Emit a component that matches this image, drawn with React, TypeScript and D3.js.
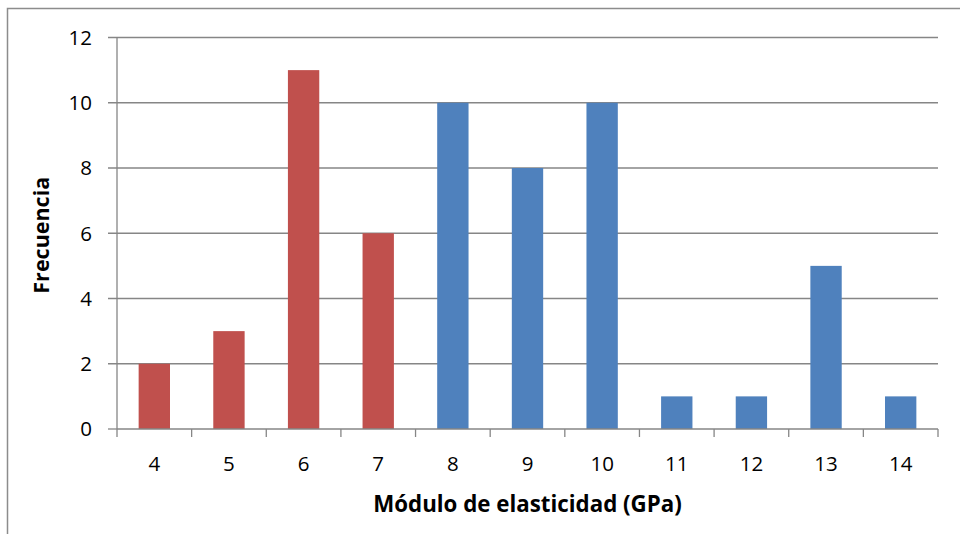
import React from "react";
import * as d3 from "d3";

const categories = ["4", "5", "6", "7", "8", "9", "10", "11", "12", "13", "14"];
const frequencies = [2, 3, 11, 6, 10, 8, 10, 1, 1, 5, 1];
const groups = ["a", "a", "a", "a", "b", "b", "b", "b", "b", "b", "b"];
const yTicks = [0, 2, 4, 6, 8, 10, 12];

const W = 960;
const H = 534;
const left = 117;
const right = 938;
const top = 37.5;
const bottom = 429;
const font = "'Open Sans', sans-serif";

export default function App() {
  const x = d3.scaleBand<string>().domain(categories).range([left, right]).paddingInner(0.58).paddingOuter(0.29);
  const xb = d3.scaleBand<string>().domain(categories).range([left, right]);
  const y = d3.scaleLinear().domain([0, 12]).range([bottom, top]);
  const color = d3.scaleOrdinal<string, string>().domain(["a", "b"]).range(["#C0504D", "#4F81BD"]);
  const grid = "#868686";
  return (
    <svg width={W} height={H} style={{ position: "fixed", left: 0, top: 0, background: "#fff" }}>
      <rect x={7.5} y={8.5} width={W + 20} height={H + 20} fill="#fff" stroke="#8c8c8c" strokeWidth={1.5} />
      {yTicks.map((t) => (
        <g key={t}>
          <line x1={108} x2={t === 0 ? left : right} y1={y(t)} y2={y(t)} stroke={grid} strokeWidth={1.3} />
          <text x={92} y={y(t)} dy="0.36em" textAnchor="end" fontSize={20.5} fontFamily={font} fill="#000">
            {t}
          </text>
        </g>
      ))}
      {categories.map((c, i) => (
        <rect key={c} x={x(c)} y={y(frequencies[i])} width={x.bandwidth()} height={y(0) - y(frequencies[i])} fill={color(groups[i])} />
      ))}
      <line x1={left} x2={left} y1={top} y2={bottom} stroke={grid} strokeWidth={1.3} />
      <line x1={left} x2={right} y1={bottom} y2={bottom} stroke={grid} strokeWidth={1.3} />
      {[...categories.map((c) => xb(c) as number), right].map((px, i) => (
        <line key={i} x1={px} x2={px} y1={bottom} y2={bottom + 8} stroke={grid} strokeWidth={1.3} />
      ))}
      {categories.map((c) => (
        <text key={c} x={(xb(c) as number) + xb.bandwidth() / 2} y={464} dy="0.36em" textAnchor="middle" fontSize={20.5} fontFamily={font} fill="#000">
          {c}
        </text>
      ))}
      <text x={(left + right) / 2} y={504} dy="0.36em" textAnchor="middle" fontSize={22.3} fontWeight="bold" fontFamily={font} fill="#000">
        Módulo de elasticidad (GPa)
      </text>
      <text transform={`translate(41, ${(top + bottom) / 2 + 2}) rotate(-90)`} dy="0.36em" textAnchor="middle" fontSize={21.5} fontWeight="bold" fontFamily={font} fill="#000">
        Frecuencia
      </text>
    </svg>
  );
}
